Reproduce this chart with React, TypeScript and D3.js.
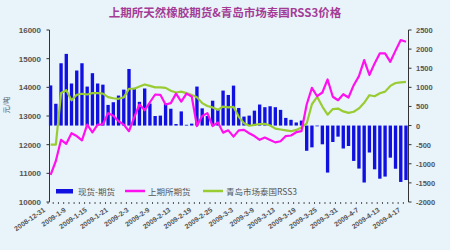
import React from "react";
import * as d3 from "d3";

const W = 450;
const H = 250;

const title = "上期所天然橡胶期货&青岛市场泰国RSS3价格";
const yUnit = "元/吨";
const seriesNames = ["现货-期货", "上期所期货", "青岛市场泰国RSS3"];

const tickLabels = [
  "2008-12-31", "2009-1-9", "2009-1-15", "2009-1-21", "2009-2-3", "2009-2-9",
  "2009-2-13", "2009-2-19", "2009-2-25", "2009-3-3", "2009-3-9", "2009-3-13",
  "2009-3-19", "2009-3-25", "2009-3-31", "2009-4-7", "2009-4-13", "2009-4-17",
];

// spot minus futures (right axis)
const basis = [
  1050, 570, 1630, 1875, 1100, 1440, 1630, 1020, 1370, 1100,
  1070, 540, 610, 785, 940, 1480, 985, 620, 970, 575,
  250, 260, 585, 440, 40, 370, 20, 50, 1020, 450,
  250, 650, 435, 915, 800, 1045, 460, 235, 260, 390,
  550, 480, 505, 480, 410, 200, 150, 80, 130, -660,
  -570, -20, -490, -1230, -430, -290, -600, -535, -925, -1125,
  -1490, -705, -1145, -1390, -1335, -840, -1130, -1475, -1425,
];

// SHFE futures (left axis)
const shfe = [
  10950, 11430, 12170, 12030, 12400, 12300, 12150, 12700, 12430, 12700,
  12710, 13100, 13010, 12815, 12700, 12470, 12950, 13400, 13200, 13480,
  13750, 13740, 13400, 13450, 13780, 13500, 13780, 13680, 12650, 13000,
  13100, 12650, 12780, 12420, 12500, 12280, 12500, 12515, 12400, 12300,
  12170, 12250, 12165, 12080, 12120, 12300, 12320, 12435, 12470, 13400,
  13980, 13690, 13820, 14275, 13670, 13550, 13760, 13645, 14075, 14390,
  14950, 14430, 14835, 15185, 15185, 14890, 15280, 15650, 15590,
];

// Qingdao RSS3 (left axis)
const rss3 = [
  12000, 12000, 13800, 13900, 13550, 13740, 13775, 13750, 13800, 13800,
  13780, 13660, 13620, 13600, 13650, 13950, 13950, 14030, 14100, 14050,
  14000, 14000, 13980, 13880, 13820, 13850, 13800, 13730, 13650, 13450,
  13350, 13300, 13215, 13330, 13300, 13320, 12970, 12750, 12660, 12690,
  12720, 12730, 12670, 12560, 12530, 12500, 12470, 12515, 12600, 12740,
  13410, 13670, 13330, 13045, 13240, 13260, 13160, 13110, 13150, 13265,
  13460, 13725, 13690, 13795, 13850, 14050, 14150, 14175, 14190,
];

const leftTicks = [10000, 11000, 12000, 13000, 14000, 15000, 16000];
const rightTicks = [-2000, -1500, -1000, -500, 0, 500, 1000, 1500, 2000, 2500];
const labelEvery = 4;

const BG = "#e8f3fa";
const BLUE = "#1010e0";
const PINK = "#ff10ef";
const GREEN = "#99cc33";
const AXIS = "#333";
const TXT = "#555";

export default function App() {
  const left = 48;
  const right = 408.6;
  const top = 30;
  const bottom = 202;
  const idx = basis.map((_, i) => i);

  const x = d3.scaleBand<number>().domain(idx).range([left, right]).paddingInner(0.36).paddingOuter(0.18);
  const cx = (i: number) => (x(i) as number) + x.bandwidth() / 2;
  const yL = d3.scaleLinear().domain([10000, 16000]).range([bottom, top]);
  const yR = d3.scaleLinear().domain([-2000, 2500]).range([bottom, top]);

  const line = d3
    .line<number>()
    .x((_, i) => cx(i))
    .y((d) => yL(d))
    .curve(d3.curveLinear);

  const step = x.step();
  const axisL = 49.5;
  const axisR = 408.5;
  const font = "'Liberation Sans', Arial, sans-serif";
  const cjk = "'Noto Sans CJK SC', 'Liberation Sans', sans-serif";

  return (
    <svg
      width={W}
      height={H}
      style={{ position: "absolute", left: 0, top: 0, background: BG }}
    >
      <rect x={0} y={0} width={W} height={H} fill={BG} />
      <text
        x={225}
        y={17}
        textAnchor="middle"
        fontFamily={cjk}
        fontSize={11.5}
        fontWeight="bold"
        fill="#a43c96"
      >
        {title}
      </text>

      {/* bars */}
      {basis.map((v, i) => (
        <rect
          key={"b" + i}
          x={x(i)}
          width={x.bandwidth()}
          y={Math.min(yR(v), yR(0))}
          height={Math.abs(yR(v) - yR(0))}
          fill={BLUE}
        />
      ))}

      {/* lines */}
      <path d={line(rss3) || ""} fill="none" stroke={GREEN} strokeWidth={2.2} strokeLinejoin="round" />
      <path d={line(shfe) || ""} fill="none" stroke={PINK} strokeWidth={2.2} strokeLinejoin="round" />

      {/* left axis */}
      <line x1={axisL} x2={axisL} y1={top} y2={bottom} stroke={AXIS} strokeWidth={1} />
      {leftTicks.map((t) => (
        <g key={"lt" + t}>
          <line x1={axisL - 3} x2={axisL} y1={yL(t)} y2={yL(t)} stroke={AXIS} />
          <text
            x={41}
            y={yL(t) + 3}
            textAnchor="end"
            fontFamily={font}
            fontSize={8}
            fontWeight="bold"
            fill={TXT}
          >
            {t}
          </text>
        </g>
      ))}
      <text
        transform={`translate(9,105) rotate(-90)`}
        textAnchor="middle"
        fontFamily={cjk}
        fontSize={7}
        fill={TXT}
      >
        {yUnit}
      </text>

      {/* right axis */}
      <line x1={axisR} x2={axisR} y1={top} y2={bottom} stroke={AXIS} strokeWidth={1} />
      {rightTicks.map((t) => (
        <g key={"rt" + t}>
          <line x1={axisR} x2={axisR + 3} y1={yR(t)} y2={yR(t)} stroke={AXIS} />
          <text
            x={416}
            y={yR(t) + 3}
            textAnchor="start"
            fontFamily={font}
            fontSize={7.5}
            fontWeight="bold"
            fill={TXT}
          >
            {t}
          </text>
        </g>
      ))}

      {/* category ticks */}
      {idx.map((i) => (
        <line
          key={"ct" + i}
          x1={(x(i) as number) - (step - x.bandwidth()) / 2}
          x2={(x(i) as number) - (step - x.bandwidth()) / 2}
          y1={bottom}
          y2={bottom + 2}
          stroke="#555"
          strokeWidth={1}
        />
      ))}
      {tickLabels.map((s, k) => {
        const i = k * labelEvery;
        const tx = cx(i) - 5;
        const ty = 211;
        return (
          <text
            key={"xl" + k}
            transform={`translate(${tx},${ty}) rotate(-35)`}
            textAnchor="end"
            fontFamily={font}
            fontSize={7}
            fontWeight="bold"
            fill={TXT}
          >
            {s}
          </text>
        );
      })}

      {/* legend */}
      <rect x={56} y={189} width={17} height={4.5} fill={BLUE} />
      <text x={78} y={194.5} fontFamily={cjk} fontSize={8.5} fill={TXT}>
        {seriesNames[0]}
      </text>
      <line x1={125} x2={145} y1={191} y2={191} stroke={PINK} strokeWidth={2.5} />
      <text x={148} y={194.5} fontFamily={cjk} fontSize={8.5} fill={TXT}>
        {seriesNames[1]}
      </text>
      <line x1={203} x2={223} y1={191} y2={191} stroke={GREEN} strokeWidth={2.5} />
      <text x={226} y={194.5} fontFamily={cjk} fontSize={8.5} fill={TXT}>
        {seriesNames[2]}
      </text>
    </svg>
  );
}
